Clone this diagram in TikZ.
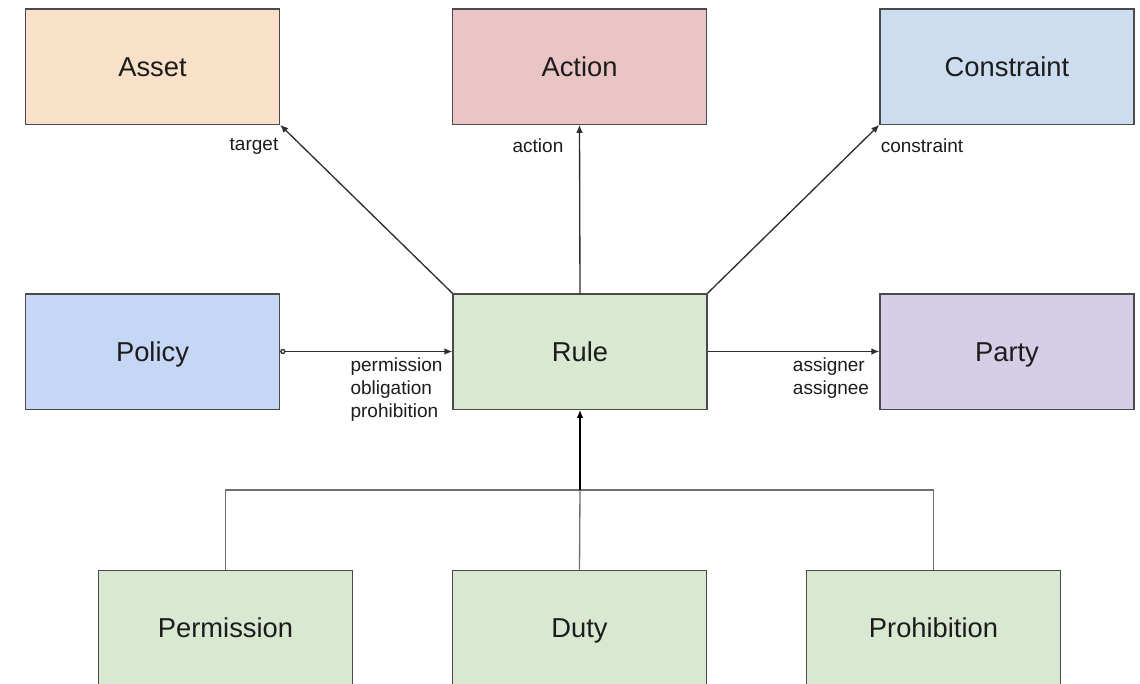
\documentclass[tikz,border=0pt]{standalone}
\usepackage{fontspec}
\setmainfont{Liberation Sans}
\usetikzlibrary{arrows.meta}
\definecolor{cAsset}{HTML}{F9E0C8}
\definecolor{cAction}{HTML}{EAC5C5}
\definecolor{cConstraint}{HTML}{CCDDF0}
\definecolor{cPolicy}{HTML}{C6D6F5}
\definecolor{cRule}{HTML}{D8E8D1}
\definecolor{cParty}{HTML}{D6CEE6}
\definecolor{boxline}{HTML}{4A4A4A}
\definecolor{linecol}{HTML}{2E2E2E}
\definecolor{treecol}{HTML}{707070}
\definecolor{txt}{HTML}{1C1C1C}
\begin{document}
\begin{tikzpicture}[x=0.75pt,y=-0.75pt,
  box/.style={draw=boxline, line width=1pt, minimum width=190.5pt, minimum height=86.5pt,
    inner sep=0pt, text=txt, text height=14.7pt, text depth=0pt,
    font=\fontsize{20.5}{24}\selectfont},
  lbl/.style={inner sep=0pt, text=txt, font=\fontsize{14.25}{17.25}\selectfont},
  arr/.style={draw=linecol, line width=1pt, -{Latex[length=6pt,width=5pt]}},
  tree/.style={draw=treecol, line width=1pt}]
\clip (0,0) rectangle (1140,683);
\fill[white] (0,0) rectangle (1140,683);
\node[box, fill=cAsset] (Asset) at (152.5,66.5) {Asset};
\node[box, fill=cAction] (Action) at (579.5,66.5) {Action};
\node[box, fill=cConstraint] (Constraint) at (1007,66.5) {Constraint};
\node[box, fill=cPolicy] (Policy) at (152.5,351.5) {Policy};
\node[box, fill=cRule] (Rule) at (580,351.5) {Rule};
\node[box, fill=cParty] (Party) at (1007,351.5) {Party};
\node[box, fill=cRule] (Permission) at (225.5,628) {Permission};
\node[box, fill=cRule] (Duty) at (579.5,628) {Duty};
\node[box, fill=cRule] (Prohibition) at (933.5,628) {Prohibition};
\draw[arr] (Rule.north west) -- (Asset.south east);
\draw[arr] (Rule.north) -- (Action.south);
\draw[arr] (Rule.north east) -- (Constraint.south west);
\draw[draw=linecol, line width=1pt, {Circle[open,length=4pt]}-{Latex[length=6pt,width=5pt]}] (Policy.east) -- (Rule.west);
\draw[arr] (Rule.east) -- (Party.west);
\coordinate (j) at (580,490);
\draw[tree] (Permission.north) |- (j) -| (Prohibition.north);
\draw[tree] (Duty.north) -- (j);
\draw[arr, line width=1.5pt, draw=black] (j) -- (Rule.south);
\node[lbl] (ltarget) at (254,146) {target};
\node[lbl] (laction) at (538,146) {action};
\node[lbl] (lconstraint) at (922,146) {constraint};
\node[lbl, align=left] (lperm) at (396.5,390) {permission\\obligation\\prohibition};
\node[lbl, align=left] (lassign) at (831,378.5) {assigner\\assignee};
\end{tikzpicture}
\end{document}
